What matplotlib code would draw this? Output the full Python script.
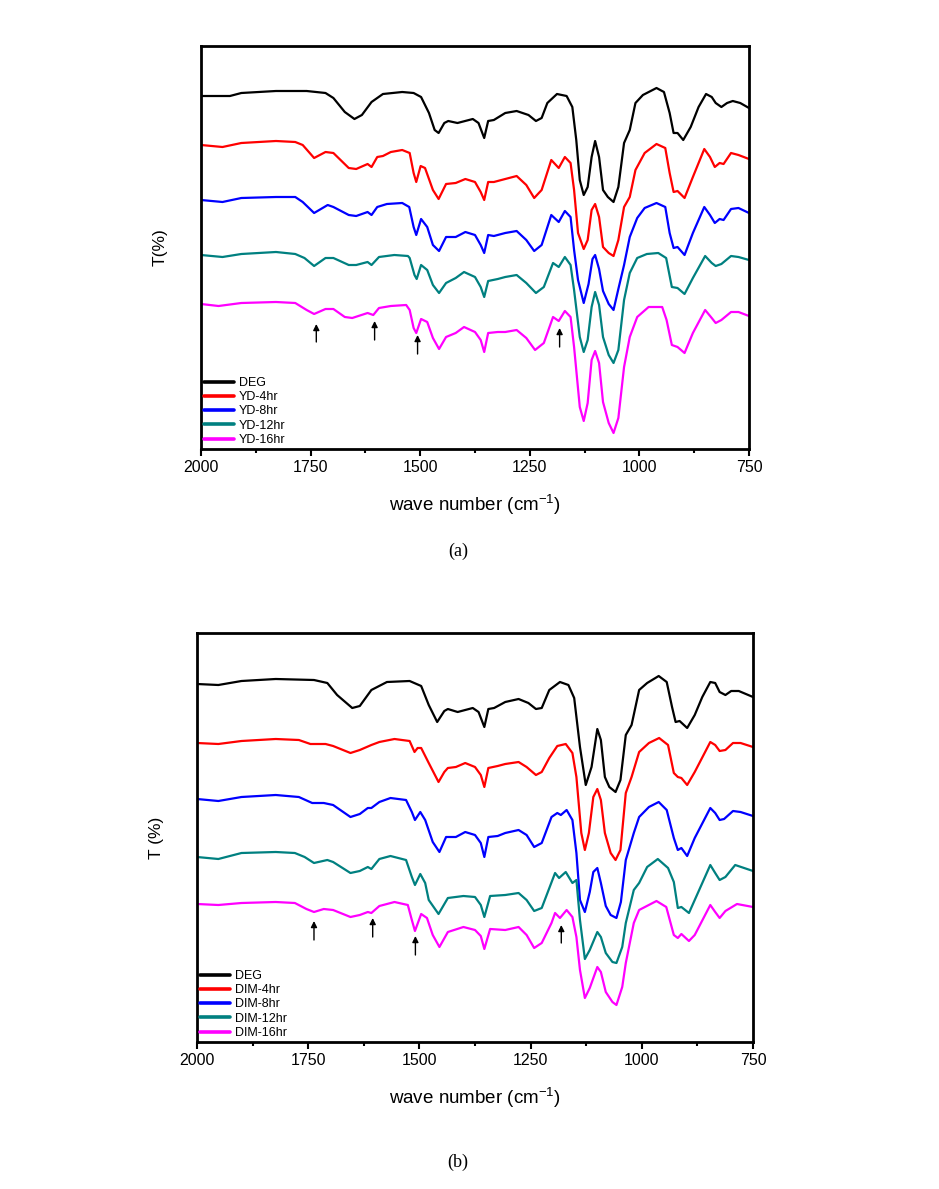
import matplotlib
matplotlib.use("Agg")
import matplotlib.pyplot as plt
from matplotlib import font_manager

# ---- panel (a): YD series ----
deg_a_w = [2000, 1960, 1934, 1908, 1829, 1759, 1716, 1698, 1672, 1650, 1633, 1611, 1585, 1541, 1515, 1498, 1480,
           1467, 1458, 1445, 1436, 1415, 1380, 1367, 1354, 1345, 1332, 1306, 1280, 1253, 1236, 1223, 1210, 1188,
           1166, 1153, 1144, 1136, 1127, 1118, 1109, 1101, 1092, 1083, 1072, 1059, 1048, 1035, 1022, 1009, 992,
           961, 944, 931, 922, 913, 900, 883, 865, 848, 835, 826, 813, 800, 787, 770, 750]
deg_a_t = [353, 353, 353, 356, 358, 358, 356, 351, 337, 330, 334, 347, 355, 357, 356, 352, 336, 319, 316, 326, 328,
           326, 330, 326, 311, 328, 329, 336, 338, 334, 328, 331, 346, 355, 353, 342, 309, 269, 254, 262, 292, 308,
           292, 259, 252, 247, 262, 306, 319, 346, 354, 361, 357, 336, 316, 316, 309, 322, 342, 355, 352, 346, 342,
           346, 348, 346, 341]

yd4_w = [2000, 1951, 1908, 1829, 1785, 1768, 1742, 1716, 1698, 1663, 1646, 1620, 1611, 1598, 1585, 1567, 1541, 1524,
         1515, 1509, 1499, 1489, 1471, 1458, 1441, 1419, 1397, 1375, 1362, 1354, 1345, 1332, 1306, 1280, 1258, 1240,
         1223, 1201, 1184, 1170, 1157, 1149, 1140, 1127, 1118, 1109, 1101, 1092, 1083, 1070, 1059, 1048, 1035, 1022,
         1009, 988, 961, 941, 931, 922, 913, 897, 878, 852, 839, 828, 817, 808, 791, 774, 750]
yd4_t = [304, 302, 306, 308, 307, 304, 291, 297, 296, 281, 280, 285, 282, 292, 293, 297, 299, 296, 276, 267, 283, 281,
         259, 250, 265, 266, 270, 267, 257, 249, 267, 267, 270, 273, 264, 251, 259, 289, 281, 292, 286, 259, 216, 200,
         209, 239, 245, 232, 202, 196, 193, 209, 242, 252, 279, 296, 305, 301, 276, 257, 258, 251, 272, 300, 292, 282,
         286, 285, 296, 294, 290]

yd8_w = [2000, 1951, 1908, 1829, 1785, 1768, 1742, 1711, 1698, 1663, 1646, 1620, 1611, 1598, 1576, 1541, 1525, 1515,
         1509, 1498, 1484, 1471, 1457, 1441, 1419, 1397, 1375, 1362, 1354, 1345, 1332, 1306, 1280, 1258, 1240, 1223,
         1201, 1184, 1170, 1157, 1149, 1140, 1127, 1116, 1107, 1101, 1092, 1083, 1070, 1059, 1048, 1035, 1022, 1005,
         988, 961, 941, 931, 922, 913, 897, 878, 852, 839, 828, 817, 808, 791, 774, 750]
yd8_t = [249, 247, 251, 252, 252, 247, 236, 244, 242, 234, 233, 237, 234, 242, 245, 246, 242, 222, 214, 230, 222, 204,
         198, 212, 212, 217, 214, 204, 196, 214, 213, 216, 218, 209, 198, 204, 234, 227, 238, 232, 199, 169, 146, 165,
         190, 194, 180, 158, 145, 139, 160, 184, 212, 231, 241, 246, 242, 216, 201, 202, 194, 216, 242, 234, 226, 230,
         229, 240, 241, 236]

yd12_w = [2000, 1951, 1908, 1829, 1785, 1764, 1742, 1716, 1698, 1663, 1646, 1620, 1611, 1594, 1559, 1528, 1524, 1513,
          1508, 1498, 1484, 1471, 1457, 1441, 1419, 1400, 1375, 1362, 1354, 1345, 1323, 1306, 1280, 1258, 1236, 1218,
          1197, 1184, 1170, 1157, 1149, 1136, 1127, 1118, 1109, 1101, 1092, 1083, 1070, 1059, 1048, 1035, 1022, 1005,
          983, 957, 939, 926, 913, 897, 878, 850, 835, 826, 813, 791, 774, 750]
yd12_t = [194, 192, 195, 197, 195, 191, 183, 191, 191, 184, 184, 187, 184, 192, 194, 193, 191, 174, 170, 184, 179, 164,
          156, 166, 171, 177, 172, 162, 152, 168, 170, 172, 174, 166, 156, 162, 186, 182, 192, 184, 159, 112, 97, 109,
          142, 157, 144, 112, 94, 86, 99, 149, 176, 191, 195, 196, 191, 162, 161, 155, 171, 193, 186, 183, 185, 193,
          192, 189]

yd16_w = [2000, 1960, 1908, 1829, 1785, 1759, 1742, 1716, 1698, 1672, 1655, 1620, 1607, 1594, 1567, 1532, 1524, 1515,
          1509, 1498, 1484, 1471, 1457, 1441, 1419, 1400, 1375, 1362, 1354, 1345, 1323, 1306, 1280, 1258, 1238, 1218,
          1197, 1184, 1170, 1157, 1149, 1136, 1127, 1118, 1109, 1101, 1092, 1083, 1070, 1059, 1048, 1035, 1022, 1005,
          979, 948, 938, 926, 913, 897, 878, 850, 835, 826, 813, 791, 774, 750]
yd16_t = [145, 143, 146, 147, 146, 139, 135, 140, 140, 132, 131, 136, 134, 141, 143, 144, 139, 121, 116, 130, 127, 111,
          100, 112, 116, 122, 117, 109, 97, 116, 117, 117, 119, 111, 99, 106, 132, 128, 138, 132, 102, 42, 28, 46, 89,
          98, 86, 47, 26, 16, 31, 82, 112, 132, 142, 142, 129, 104, 102, 96, 116, 139, 131, 126, 129, 137, 137, 133]

# ---- panel (b): DIM series ----
deg_b_w = [2000, 1952, 1900, 1823, 1737, 1707, 1685, 1651, 1634, 1608, 1573, 1522, 1496, 1479, 1460, 1444, 1436,
           1414, 1380, 1367, 1354, 1345, 1332, 1307, 1277, 1255, 1238, 1225, 1208, 1184, 1165, 1152, 1139, 1126,
           1113, 1100, 1092, 1083, 1073, 1059, 1048, 1036, 1023, 1006, 988, 962, 944, 932, 924, 915, 898, 881, 864,
           846, 835, 825, 812, 799, 782, 750]
deg_b_t = [358, 357, 361, 363, 362, 359, 347, 334, 336, 352, 360, 361, 356, 337, 320, 331, 333, 330, 334, 330, 315,
           333, 334, 340, 343, 339, 333, 334, 352, 360, 357, 344, 295, 257, 275, 313, 302, 265, 255, 250, 262, 307,
           317, 352, 359, 366, 360, 335, 320, 321, 314, 327, 345, 360, 359, 350, 347, 351, 351, 345]

dim4_w = [2000, 1952, 1900, 1823, 1771, 1745, 1711, 1694, 1655, 1634, 1608, 1590, 1556, 1522, 1511, 1504, 1496, 1479,
          1457, 1444, 1436, 1418, 1397, 1375, 1362, 1354, 1345, 1324, 1307, 1277, 1259, 1238, 1225, 1208, 1190, 1171,
          1156, 1147, 1136, 1128, 1119, 1109, 1100, 1092, 1083, 1070, 1059, 1048, 1036, 1023, 1006, 984, 961, 941,
          928, 919, 911, 898, 881, 846, 835, 825, 812, 795, 778, 750]
dim4_t = [299, 298, 301, 303, 302, 298, 298, 296, 289, 292, 297, 300, 303, 301, 290, 294, 294, 279, 260, 270, 274, 275,
          279, 275, 267, 255, 274, 276, 278, 280, 275, 267, 270, 284, 296, 298, 289, 265, 209, 192, 209, 245, 253, 242,
          209, 189, 182, 192, 249, 265, 290, 299, 304, 297, 269, 265, 264, 257, 270, 300, 297, 291, 292, 299, 299, 295]

dim8_w = [2000, 1952, 1900, 1823, 1771, 1741, 1715, 1694, 1655, 1634, 1616, 1608, 1590, 1565, 1530, 1517, 1510, 1498,
          1487, 1470, 1455, 1440, 1418, 1397, 1375, 1362, 1354, 1345, 1324, 1307, 1277, 1259, 1242, 1225, 1203, 1190,
          1182, 1169, 1156, 1147, 1139, 1128, 1117, 1109, 1100, 1092, 1081, 1070, 1057, 1047, 1036, 1018, 1006, 984,
          962, 944, 928, 919, 911, 898, 881, 846, 835, 825, 815, 795, 778, 750]
dim8_t = [243, 241, 245, 247, 245, 239, 239, 237, 225, 228, 234, 234, 240, 244, 242, 230, 222, 230, 222, 200, 190, 205,
          205, 210, 207, 199, 185, 205, 206, 209, 212, 207, 195, 199, 225, 229, 227, 232, 222, 189, 142, 130, 150, 170,
          174, 159, 136, 127, 124, 140, 182, 209, 225, 235, 240, 232, 204, 192, 194, 186, 204, 234, 229, 222, 223, 231,
          230, 226]

dim12_w = [2000, 1952, 1900, 1823, 1780, 1758, 1737, 1707, 1694, 1655, 1634, 1616, 1608, 1590, 1565, 1530, 1517, 1510,
           1498, 1487, 1479, 1457, 1436, 1401, 1375, 1362, 1354, 1341, 1307, 1277, 1259, 1242, 1225, 1195, 1186, 1171,
           1156, 1147, 1139, 1128, 1117, 1100, 1092, 1081, 1066, 1057, 1044, 1036, 1018, 1006, 988, 964, 941, 928, 919,
           911, 894, 881, 846, 835, 825, 812, 790, 750]
dim12_t = [185, 183, 189, 190, 189, 185, 179, 182, 180, 169, 171, 175, 173, 183, 186, 182, 165, 157, 168, 159, 142, 128,
           144, 146, 145, 137, 125, 146, 147, 149, 142, 131, 134, 169, 164, 170, 159, 162, 122, 83, 92, 110, 105, 89,
           80, 79, 95, 119, 152, 159, 175, 183, 174, 160, 134, 135, 129, 142, 177, 169, 162, 165, 177, 171]

dim16_w = [2000, 1952, 1900, 1823, 1780, 1754, 1737, 1715, 1694, 1655, 1634, 1616, 1608, 1590, 1556, 1526, 1517, 1510,
           1496, 1483, 1470, 1455, 1436, 1401, 1375, 1362, 1354, 1341, 1307, 1277, 1259, 1242, 1225, 1203, 1195, 1184,
           1169, 1156, 1147, 1139, 1128, 1117, 1100, 1092, 1081, 1066, 1057, 1044, 1036, 1018, 1006, 967, 945, 928, 919,
           911, 894, 881, 846, 835, 825, 812, 786, 750]
dim16_t = [138, 137, 139, 140, 139, 133, 130, 133, 132, 125, 127, 130, 129, 136, 140, 137, 122, 111, 128, 124, 107, 95,
           110, 115, 112, 106, 93, 113, 112, 115, 107, 94, 99, 119, 129, 124, 132, 125, 105, 72, 44, 54, 75, 70, 50, 40,
           37, 55, 79, 119, 132, 141, 135, 107, 104, 108, 101, 107, 137, 130, 124, 131, 138, 135]

# arrows: wavenumber, head, tail
arrows_a = [(1737, 125, 107), (1604, 128, 109), (1506, 114, 95), (1182, 121, 102)]
arrows_b = [(1737, 121, 102), (1605, 124, 105), (1509, 106, 87), (1181, 117, 99)]

colors = ["black", "#ff0000", "#0000ff", "#008080", "#ff00ff"]
labels_a = ["DEG", "YD-4hr", "YD-8hr", "YD-12hr", "YD-16hr"]
labels_b = ["DEG", "DIM-4hr", "DIM-8hr", "DIM-12hr", "DIM-16hr"]

names = [f.name for f in font_manager.fontManager.ttflist]
narrow = "Liberation Sans Narrow" if "Liberation Sans Narrow" in names else "Liberation Sans"
plt.rcParams["font.family"] = ["Liberation Sans", "DejaVu Sans"]


def draw_panel(ax, series, labels, arrows, ylab, ytop):
    for (w, t), c, lab in zip(series, colors, labels):
        ax.plot(w, t, color=c, lw=1.6, label=lab, solid_joinstyle="round", solid_capstyle="round")
    for w, head, tail in arrows:
        ax.annotate("", xy=(w, head), xytext=(w, tail),
                    arrowprops=dict(arrowstyle="-|>", color="black", lw=1.0, mutation_scale=9,
                                    shrinkA=0, shrinkB=0))
    ax.set_xlim(2000, 750)
    ax.set_ylim(0, ytop)
    ax.set_xticks([2000, 1750, 1500, 1250, 1000, 750])
    ax.set_xticks([1875, 1625, 1375, 1125, 875], minor=True)
    ax.set_yticks([])
    ax.tick_params(axis="x", which="major", direction="out", length=5, width=1.5, labelsize=11.5, pad=3)
    ax.tick_params(axis="x", which="minor", direction="out", length=3, width=1.5)
    for s in ax.spines.values():
        s.set_linewidth(2)
    ax.set_xlabel("wave number (cm$^{\\mathregular{-1}}$)", fontsize=13.5, labelpad=12)
    ax.set_ylabel(ylab, fontsize=12.5, labelpad=24)
    leg = ax.legend(loc="lower left", frameon=False, borderaxespad=0, borderpad=0.25,
                    handlelength=2.4, handletextpad=0.35, labelspacing=0.18,
                    prop={"family": narrow, "size": 9})
    for ln in leg.get_lines():
        ln.set_linewidth(2.6)


fig = plt.figure(figsize=(9.39, 11.89), dpi=100)
ax1 = fig.add_axes([201 / 939, 1 - 449 / 1189, 548 / 939, 403 / 1189])
ax2 = fig.add_axes([197 / 939, 1 - 1042 / 1189, 556 / 939, 409 / 1189])

series_a = [(deg_a_w, deg_a_t), (yd4_w, yd4_t), (yd8_w, yd8_t), (yd12_w, yd12_t), (yd16_w, yd16_t)]
series_b = [(deg_b_w, deg_b_t), (dim4_w, dim4_t), (dim8_w, dim8_t), (dim12_w, dim12_t), (dim16_w, dim16_t)]

draw_panel(ax1, series_a, labels_a, arrows_a, "T(%)", 403)
draw_panel(ax2, series_b, labels_b, arrows_b, "T (%)", 409)

fig.text(458 / 939, 1 - 551 / 1189, "(a)", ha="center", va="center", fontsize=13,
         family=["Liberation Serif", "DejaVu Serif"])
fig.text(458 / 939, 1 - 1162 / 1189, "(b)", ha="center", va="center", fontsize=13,
         family=["Liberation Serif", "DejaVu Serif"])

fig.savefig("out.png", dpi=100)
